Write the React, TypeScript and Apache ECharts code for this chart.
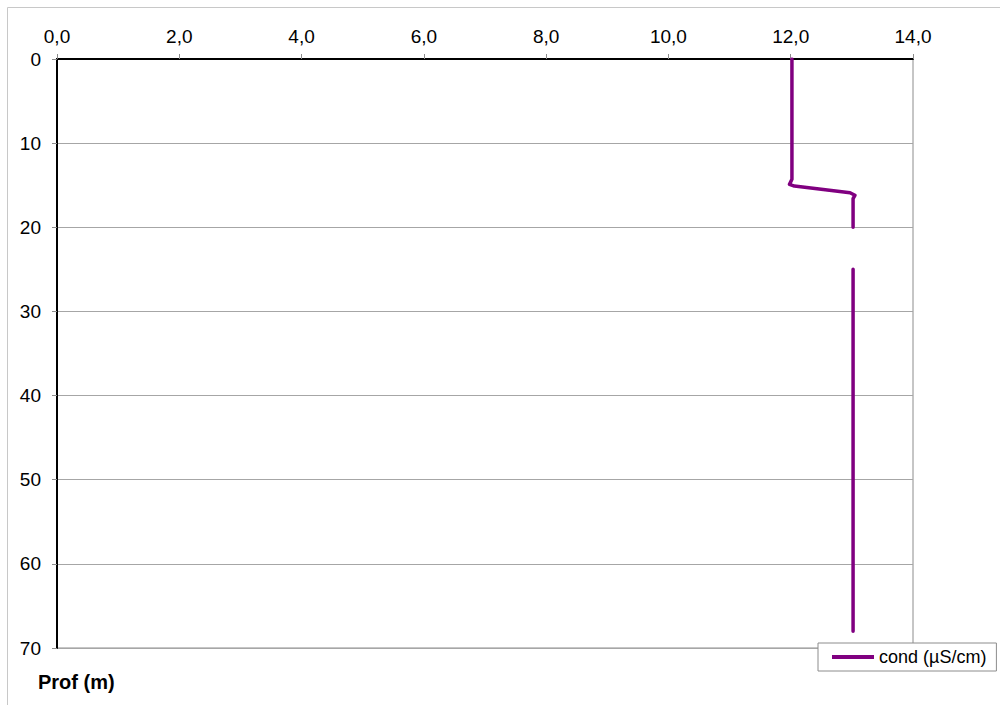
import React, { useEffect, useRef } from "react";
import * as echarts from "echarts";

const depths: (number | null)[] = [0, 14.3, 14.9, 15.1, 15.9, 16.2, 16.6, 20, null, 25, 68];
const cond: (number | null)[] = [12.02, 12.02, 11.98, 12.06, 12.97, 13.05, 13.02, 13.02, null, 13.02, 13.02];
const xTicks = [0, 2, 4, 6, 8, 10, 12, 14];
const yTicks = [0, 10, 20, 30, 40, 50, 60, 70];
const seriesName = "cond (µS/cm)";
const yTitle = "Prof (m)";

export default function App() {
  const ref = useRef<HTMLDivElement>(null);
  useEffect(() => {
    if (!ref.current) return;
    const chart = echarts.init(ref.current, null, { renderer: "svg" });
    const data = depths.map((d, i) => (d === null || cond[i] === null ? ["-", "-"] : [cond[i], d]));
    const font = "'Liberation Sans', Arial, sans-serif";
    chart.setOption({
      animation: false,
      backgroundColor: "#ffffff",
      textStyle: { fontFamily: font },
      grid: {
        left: 57, top: 59, right: 87, bottom: 57,
        show: true, borderColor: "#8c8c8c", borderWidth: 1, backgroundColor: "transparent",
      },
      xAxis: {
        type: "value", position: "top",
        min: xTicks[0], max: xTicks[xTicks.length - 1], interval: 2,
        axisLine: { show: true, onZero: false, lineStyle: { color: "#000", width: 2 } },
        axisTick: { show: true, length: 5, lineStyle: { color: "#8c8c8c" } },
        splitLine: { show: false },
        axisLabel: {
          color: "#000", fontSize: 19, fontFamily: font, margin: 13,
          formatter: (v: number) => v.toFixed(1).replace(".", ","),
        },
      },
      yAxis: {
        type: "value", inverse: true,
        min: yTicks[0], max: yTicks[yTicks.length - 1], interval: 10,
        axisLine: { show: true, onZero: false, lineStyle: { color: "#000", width: 2 } },
        axisTick: { show: true, length: 5, lineStyle: { color: "#8c8c8c" } },
        splitLine: { show: true, lineStyle: { color: "#a6a6a6", width: 1 } },
        axisLabel: { color: "#000", fontSize: 19, fontFamily: font, margin: 16 },
      },
      legend: {
        left: 818, top: 643,
        backgroundColor: "#fff", borderColor: "#8c8c8c", borderWidth: 1,
        padding: [5, 10, 5, 14],
        itemWidth: 42, itemHeight: 4, icon: "rect",
        textStyle: { color: "#000", fontSize: 18, fontFamily: font },
        data: [seriesName],
      },
      graphic: [
        {
          type: "rect", silent: true, z: -1,
          shape: { x: 7.5, y: 7.5, width: 1000, height: 720 },
          style: { fill: "none", stroke: "#c8c8c8", lineWidth: 1 },
        },
        {
          type: "text", left: 38, top: 672,
          style: { text: yTitle, fontSize: 20, fontWeight: "bold", fill: "#000", fontFamily: font },
        },
      ],
      series: [
        {
          name: seriesName, type: "line", data,
          showSymbol: false, connectNulls: false,
          lineStyle: { color: "#800080", width: 3.5, join: "round", cap: "round" },
          itemStyle: { color: "#800080" },
        },
      ],
    });
    return () => chart.dispose();
  }, []);
  return <div ref={ref} style={{ position: "fixed", left: 0, top: 0, width: 1000, height: 705 }} />;
}
